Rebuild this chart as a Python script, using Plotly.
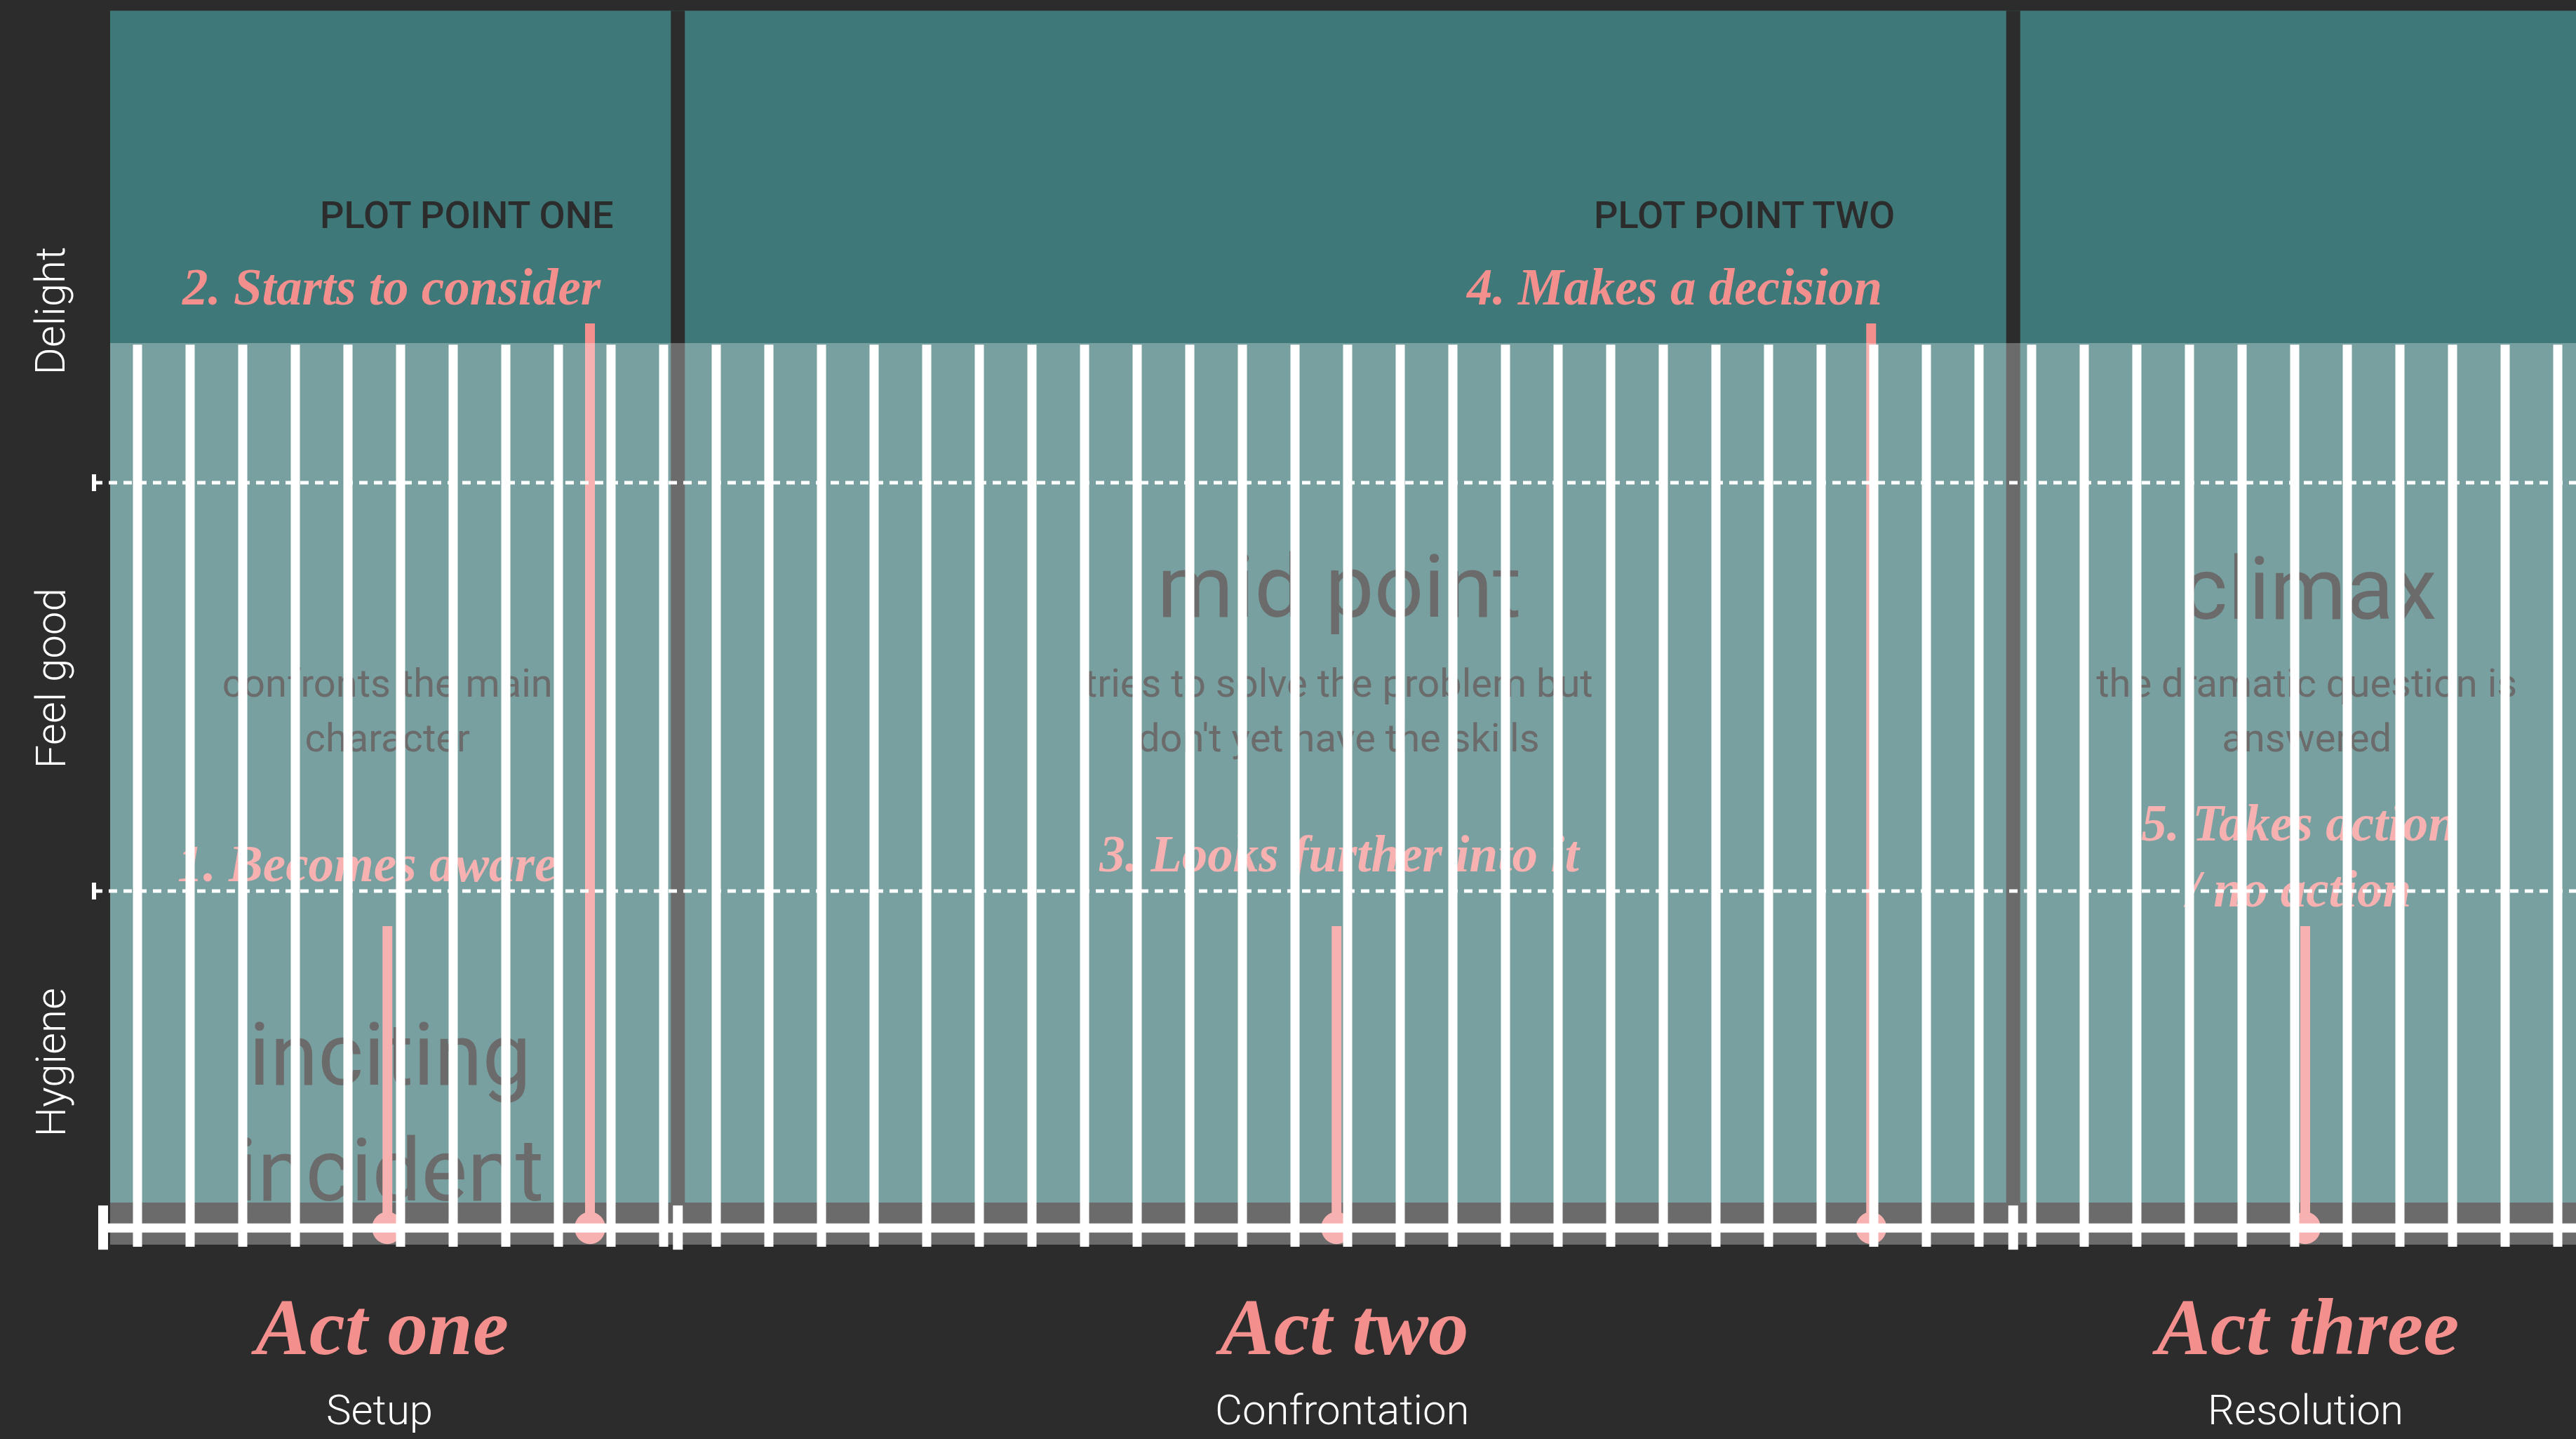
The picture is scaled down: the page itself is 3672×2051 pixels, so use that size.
import plotly.graph_objects as go

# ------------------------------------------------------------------ data
scenes = list(range(1, 48))                       # white scene markers

acts = ["Act one", "Act two", "Act three"]
act_subtitles = ["Setup", "Confrontation", "Resolution"]
act_start = [0.48, 11.27, 36.65]
act_end = [11.27, 36.65, 48.0]
act_label_x = [5.6, 23.9, 42.2]

levels = ["Hygiene", "Feel good", "Delight"]
level_label_y = [0.58, 1.52, 2.42]
level_lines = [1, 2]

beats = ["1. Becomes aware", "2. Starts to consider", "3. Looks further into it",
         "4. Makes a decision", "5. Takes action\n/ no action"]
beat_x = [5.75, 9.6, 23.79, 33.95, 42.2]
beat_top = [0.914, 2.39, 0.914, 2.39, 0.914]
beat_label_x = [5.37, 9.6, 23.84, 33.95, 42.08]
beat_label_y = [1.055, 2.478, 1.079, 2.478, 1.155]

plot_points = ["PLOT POINT ONE", "PLOT POINT TWO"]
plot_point_x = [9.6, 33.95]
plot_point_y = 2.656

moments = ["inciting\nincident", "mid point", "climax"]
moment_x = [5.8, 23.84, 42.28]
moment_y = [0.579, 1.725, 1.72]

descriptions = ["confronts the main\ncharacter",
                "tries to solve the problem but\ndon't yet have the skills",
                "the dramatic question is\nanswered"]
desc_x = [5.75, 23.83, 42.23]
desc_y = [1.5, 1.5, 1.5]

# ------------------------------------------------------------------ style
BG = "#2c2c2c"
TEAL = "#3f7878"
PINK = "#f3908e"
WHITE = "#ffffff"
NARROW = "Roboto, sans-serif"
SCRIPT = "Liberation Serif, DejaVu Serif, serif"

X_RANGE = [-1.6133, 47.3467]
Y_RANGE = [-0.3419, 3.1821]
PLOT_LEFT = 0.48
TEAL_TOP, TEAL_BOTTOM = 3.156, 0.237
OVER_TOP, OVER_BOTTOM = 2.342, 0.134
LINE_TOP, LINE_BOTTOM = 2.338, 0.129
AXIS_Y = 0.175
AXIS_X0 = 0.347
YTICK_X = 0.173
BIG_STEP = 0.2835
DESC_STEP = 0.134
PINK_STEP = 0.162

fig = go.Figure()


def split_lines(xs, texts, ys, step):
    ox, oy, ot = [], [], []
    for x, t, y in zip(xs, texts, ys):
        for i, line in enumerate(t.split("\n")):
            ox.append(x)
            oy.append(y - i * step)
            ot.append(line)
    return ox, oy, ot


# gray big words (under the white veil)
mx, my, mt = split_lines(moment_x, moments, moment_y, BIG_STEP)
fig.add_trace(go.Scatter(x=mx, y=my, text=mt, mode="text", textposition="middle center",
                         textfont=dict(family=NARROW, size=124, color=BG),
                         hoverinfo="skip", showlegend=False))

dx, dy, dt = split_lines(desc_x, descriptions, desc_y, DESC_STEP)
fig.add_trace(go.Scatter(x=dx, y=dy, text=dt, mode="text", textposition="middle center",
                         textfont=dict(family=NARROW, size=56, color=BG),
                         hoverinfo="skip", showlegend=False))

# ground-level beats (pink text under the veil)
gi = [0, 2, 4]
px_, py_, pt_ = split_lines([beat_label_x[i] for i in gi], [beats[i] for i in gi],
                            [beat_label_y[i] for i in gi], PINK_STEP)
fig.add_trace(go.Scatter(x=px_, y=py_, text=pt_, mode="text", textposition="middle center",
                         textfont=dict(family=SCRIPT, size=73, color=PINK, style="italic",
                                       weight="bold"),
                         hoverinfo="skip", showlegend=False))

shapes = []
# act panels
for s, e in zip(act_start, act_end):
    shapes.append(dict(type="rect", xref="x", yref="y", x0=s, x1=e, y0=TEAL_BOTTOM, y1=TEAL_TOP,
                       fillcolor=TEAL, line_width=0, layer="below"))
for b in act_end[:-1]:
    shapes.append(dict(type="line", xref="x", yref="y", x0=b, x1=b, y0=TEAL_BOTTOM, y1=TEAL_TOP,
                       line=dict(color=BG, width=20), layer="below"))
# clip band below panels
shapes.append(dict(type="rect", xref="x", yref="y", x0=PLOT_LEFT, x1=X_RANGE[1] + 1,
                   y0=OVER_BOTTOM, y1=TEAL_BOTTOM, fillcolor=BG, line_width=0, layer="above"))
# stems and dots
for x, t in zip(beat_x, beat_top):
    shapes.append(dict(type="line", xref="x", yref="y", x0=x, x1=x, y0=AXIS_Y, y1=t,
                       line=dict(color=PINK, width=14), layer="above"))
for x in beat_x:
    shapes.append(dict(type="circle", xref="x", yref="y", xsizemode="pixel", ysizemode="pixel",
                       xanchor=x, yanchor=AXIS_Y, x0=-22, x1=22, y0=-23, y1=23,
                       fillcolor=PINK, line_width=0, layer="above"))
# white veil
shapes.append(dict(type="rect", xref="x", yref="y", x0=PLOT_LEFT, x1=X_RANGE[1] + 1,
                   y0=OVER_BOTTOM, y1=OVER_TOP, fillcolor="rgba(255,255,255,0.3)",
                   line_width=0, layer="above"))
# scene lines
for k in scenes:
    shapes.append(dict(type="line", xref="x", yref="y", x0=k, x1=k, y0=LINE_BOTTOM, y1=LINE_TOP,
                       line=dict(color=WHITE, width=13), layer="above"))
# level dashed lines + ticks
for lv in level_lines:
    shapes.append(dict(type="line", xref="x", yref="y", x0=YTICK_X, x1=X_RANGE[1] + 1, y0=lv, y1=lv,
                       line=dict(color=WHITE, width=5, dash="12px,9px"), layer="above"))
    shapes.append(dict(type="line", xref="x", yref="y", ysizemode="pixel", yanchor=lv,
                       x0=YTICK_X, x1=YTICK_X, y0=-12, y1=12,
                       line=dict(color=WHITE, width=6), layer="above"))
# time axis
shapes.append(dict(type="line", xref="x", yref="y", x0=AXIS_X0, x1=X_RANGE[1] + 1,
                   y0=AXIS_Y, y1=AXIS_Y, line=dict(color=WHITE, width=13), layer="above"))
for cx in [AXIS_X0] + act_end[:-1]:
    shapes.append(dict(type="line", xref="x", yref="y", ysizemode="pixel", yanchor=AXIS_Y,
                       x0=cx, x1=cx, y0=-31, y1=32,
                       line=dict(color=WHITE, width=14), layer="above"))

annotations = []
for x, t in zip(plot_point_x, plot_points):
    annotations.append(dict(x=x, y=plot_point_y, xref="x", yref="y", text=t, showarrow=False,
                            xanchor="right", yanchor="middle", xshift=36,
                            font=dict(family=NARROW, size=54, color=BG, weight=500)))
for i in [1, 3]:
    annotations.append(dict(x=beat_label_x[i], y=beat_label_y[i], xref="x", yref="y",
                            text=beats[i], showarrow=False, xanchor="right", yanchor="middle",
                            xshift=18, font=dict(family=SCRIPT, size=73, color=PINK,
                                                 style="italic", weight="bold")))
for x, a, s in zip(act_label_x, acts, act_subtitles):
    annotations.append(dict(x=x, y=-0.067, xref="x", yref="y", text=a, showarrow=False,
                            xanchor="center", yanchor="middle",
                            font=dict(family=SCRIPT, size=115, color=PINK, style="italic",
                                      weight="bold")))
    annotations.append(dict(x=x, y=-0.271, xref="x", yref="y", text=s, showarrow=False,
                            xanchor="center", yanchor="middle",
                            font=dict(family=NARROW, size=60, color=WHITE, weight=300)))
for y, t in zip(level_label_y, levels):
    annotations.append(dict(x=-0.653, y=y, xref="x", yref="y", text=t, showarrow=False,
                            textangle=-90, xanchor="center", yanchor="middle",
                            font=dict(family=NARROW, size=60, color=WHITE, weight=300)))

fig.update_layout(
    width=3672, height=2051,
    margin=dict(l=0, r=0, t=0, b=0, pad=0),
    paper_bgcolor=BG, plot_bgcolor=BG,
    xaxis=dict(range=X_RANGE, visible=False, fixedrange=True),
    yaxis=dict(range=Y_RANGE, visible=False, fixedrange=True),
    shapes=shapes, annotations=annotations, showlegend=False,
)

fig.write_html("out.html", config={"displayModeBar": False},
               post_script="document.body.style.margin='0';document.body.style.overflow='hidden';")
